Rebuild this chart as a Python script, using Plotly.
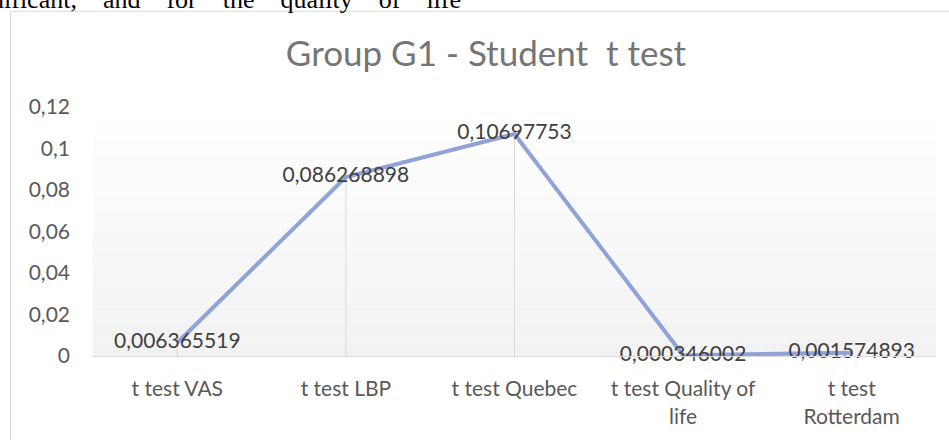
import plotly.graph_objects as go

categories = ["t test VAS", "t test LBP", "t test Quebec", "t test Quality of<br>life", "t test<br>Rotterdam"]
p_values = [0.006365519, 0.086268898, 0.10697753, 0.000346002, 0.001574893]
y_ticks = [0, 0.02, 0.04, 0.06, 0.08, 0.1, 0.12]
y_tick_labels = ["0", "0,02", "0,04", "0,06", "0,08", "0,1", "0,12"]
title_text = "Group G1 - Student\u00a0 t test"
header_words = ["nificant,", "and", "for", "the", "quality", "of", "life"]

W, H = 949, 440
L, R, T, B = 93, 936, 107, 358  # plot area pixel bounds

def px_x(p):
    return (p - L) / (R - L)

def px_y(p):
    return (B - p) / (B - T)

labels = [str(v).replace(".", ",") for v in p_values]

fig = go.Figure()
fig.add_trace(go.Scatter(
    x=categories, y=p_values, mode="lines+text",
    line=dict(color="#8FA3D8", width=4),
    text=labels, textposition="middle center",
    textfont=dict(family="Lato", size=21, color="#404040"),
    error_y=dict(type="data", symmetric=False, array=[0] * len(p_values),
                 arrayminus=p_values, color="#d9d9d9", thickness=1, width=0),
    cliponaxis=False, hoverinfo="x+y", showlegend=False,
))

shapes = []
# gradient plot background
n = 40
for i in range(n):
    t = i / (n - 1)
    c = int(round(242 + (255 - 242) * t))
    shapes.append(dict(type="rect", xref="x domain", yref="y domain",
                       x0=0, x1=1, y0=i / n, y1=(i + 1) / n,
                       fillcolor=f"rgb({c},{c},{c})", line=dict(width=0), layer="below"))
# chart frame
shapes.append(dict(type="rect", xref="paper", yref="paper",
                   x0=px_x(10.5), x1=px_x(955), y0=px_y(450), y1=px_y(10.5),
                   line=dict(color="#d9d9d9", width=1), fillcolor="rgba(0,0,0,0)", layer="below"))

fig.update_layout(
    width=W, height=H,
    margin=dict(l=L, r=W - R, t=T, b=H - B, pad=0),
    paper_bgcolor="white", plot_bgcolor="white",
    separators=",.",
    font=dict(family="Lato", color="#595959", size=21),
    title=dict(text=title_text, x=486 / W, xanchor="center", xref="container",
               y=1 - 54 / H, yanchor="middle", yref="container",
               font=dict(family="Lato", size=35, color="#757575")),
    shapes=shapes,
    annotations=[dict(text="\u2003".join(header_words), xref="paper", yref="paper",
                      x=px_x(-10), y=px_y(14.5), xanchor="left", yanchor="bottom",
                      showarrow=False, borderpad=0,
                      font=dict(family="Liberation Serif", size=26, color="black"))],
    xaxis=dict(range=[-0.5, 4.5], showgrid=False, showline=True, linecolor="#d9d9d9",
               linewidth=1, ticks="", ticklabelstandoff=14,
               tickfont=dict(size=21, color="#595959"), zeroline=False),
    yaxis=dict(range=[0, 0.12], tickvals=y_ticks, ticktext=y_tick_labels,
               showgrid=False, zeroline=False, showline=False, ticks="",
               ticklabelstandoff=22, tickfont=dict(size=21, color="#595959")),
)

fig.write_html("out.html", config={"displayModeBar": False},
               post_script="document.body.style.margin='0';")
